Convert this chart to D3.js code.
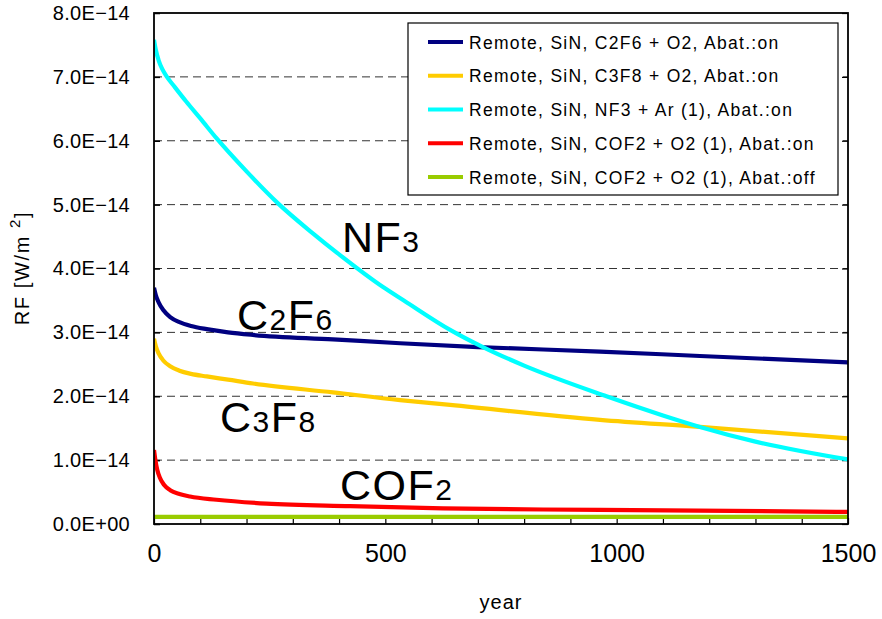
<!DOCTYPE html>
<html>
<head>
<meta charset="utf-8">
<script src="https://cdn.jsdelivr.net/npm/d3@7"></script>
<style>
  html, body { margin: 0; padding: 0; background: #fff; }
  svg text { font-family: "Liberation Sans", Arial, sans-serif; fill: #000; }
</style>
</head>
<body>
<svg id="chart" width="882" height="619"></svg>
<script>
// Radiative forcing of remote-plasma SiN chamber-clean gases over time.
// Values are in units of 1E-14 W/m2; each point is [year, RF].
const UNIT = 1e-14;

const seriesNames = [
  "Remote, SiN, C2F6 + O2, Abat.:on",
  "Remote, SiN, C3F8 + O2, Abat.:on",
  "Remote, SiN, NF3 + Ar (1), Abat.:on",
  "Remote, SiN, COF2 + O2 (1), Abat.:on",
  "Remote, SiN, COF2 + O2 (1), Abat.:off"
];
const seriesColors = ["#000080", "#FFCC00", "#00FFFF", "#FF0000", "#99CC00"];

const c2f6 = [[0,3.70],[4,3.58],[10,3.47],[20,3.35],[35,3.24],[55,3.16],[80,3.10],[114,3.05],
              [160,3.00],[214,2.96],[387,2.89],[532,2.83],[700,2.77],[964,2.70],[1180,2.63],[1500,2.53]];
const c3f8 = [[0,2.90],[4,2.78],[10,2.67],[20,2.56],[35,2.47],[55,2.40],[80,2.35],[114,2.31],
              [160,2.26],[214,2.20],[387,2.06],[532,1.94],[640,1.865],[964,1.63],[1180,1.52],[1500,1.34]];
const nf3  = [[0,7.58],[4,7.42],[10,7.26],[18,7.12],[28,7.00],[45,6.84],[70,6.61],[100,6.35],[135,6.04],
              [200,5.52],[268,5.02],[340,4.57],[402,4.21],[495,3.71],[540,3.50],[640,3.04],
              [711,2.77],[800,2.48],[978,2.00],[1100,1.70],[1180,1.52],[1300,1.29],[1500,1.01]];
const cof2On  = [[0,1.16],[3,1.00],[7,0.85],[13,0.72],[22,0.61],[35,0.53],[55,0.47],[78,0.43],
                 [135,0.38],[243,0.32],[424,0.28],[625,0.245],[964,0.22],[1500,0.19]];
const cof2Off = [[0,0.11],[1500,0.11]];
const seriesData = [c2f6, c3f8, nf3, cof2On, cof2Off];

const xTickLabels = [0, 500, 1000, 1500];
const yTickValues = [0, 1, 2, 3, 4, 5, 6, 7, 8];

// In-plot gas names; odd parts are subscripts
const gasLabels = [
  ["NF", "3"],
  ["C", "2", "F", "6"],
  ["C", "3", "F", "8"],
  ["COF", "2"]
];

const svg = d3.select("#chart");
const margin = { top: 13, right: 34, bottom: 95, left: 154 };
const W = 882, H = 619;
const iw = W - margin.left - margin.right;
const ih = H - margin.top - margin.bottom;

const x = d3.scaleLinear().domain([0, 1500]).range([0, iw]);
const y = d3.scaleLinear().domain([0, 8 * UNIT]).range([ih, 0]);

const g = svg.append("g").attr("transform", `translate(${margin.left},${margin.top})`);

// Dashed gridlines
g.append("g")
  .selectAll("line")
  .data(yTickValues.filter(v => v > 0 && v < 8))
  .join("line")
  .attr("x1", 0).attr("x2", iw)
  .attr("y1", d => y(d * UNIT)).attr("y2", d => y(d * UNIT))
  .attr("stroke", "#333").attr("stroke-width", 1)
  .attr("stroke-dasharray", "8,5");

// Y axis labels and inward ticks
const fmtY = v => v === 0 ? "0.0E+00" : v.toFixed(1) + "E\u221214";
const yAxis = d3.axisLeft(y)
  .tickValues(yTickValues.map(v => v * UNIT))
  .tickSizeInner(-6).tickSizeOuter(0).tickPadding(24)
  .tickFormat(d => fmtY(Math.round(d / UNIT)));
const yg = g.append("g").call(yAxis);
yg.select(".domain").remove();
yg.selectAll(".tick line").attr("stroke", "#000").attr("stroke-width", 1.5);
yg.selectAll(".tick text")
  .attr("font-size", 20).attr("letter-spacing", 0.3)
  .attr("font-family", "Liberation Sans, Arial, sans-serif");

// Right-side inward ticks
const yr = g.append("g").attr("transform", `translate(${iw},0)`)
  .call(d3.axisRight(y).tickValues(yTickValues.map(v => v * UNIT)).tickSizeInner(-6).tickSizeOuter(0).tickFormat(""));
yr.select(".domain").remove();
yr.selectAll(".tick line").attr("stroke", "#000").attr("stroke-width", 1.2);

// X axis: minor ticks every 100 years, labels every 500
const xTicks = d3.range(0, 1501, 100);
const xg = g.append("g").attr("transform", `translate(0,${ih})`)
  .call(d3.axisBottom(x).tickValues(xTicks).tickSizeInner(-6).tickSizeOuter(0).tickPadding(20)
    .tickFormat(d => xTickLabels.includes(d) ? d : ""));
xg.select(".domain").remove();
xg.selectAll(".tick line").attr("stroke", "#000").attr("stroke-width", 1.2);
xg.selectAll(".tick text")
  .attr("font-size", 25).attr("font-family", "Liberation Sans, Arial, sans-serif");

// Series lines
svg.append("clipPath").attr("id", "plotclip")
  .append("rect").attr("x", 0).attr("y", 0).attr("width", iw).attr("height", ih);
const line = d3.line()
  .x(d => x(d[0]))
  .y(d => y(d[1] * UNIT))
  .curve(d3.curveMonotoneX);
g.append("g").attr("clip-path", "url(#plotclip)")
  .selectAll("path")
  .data(seriesData)
  .join("path")
  .attr("d", line)
  .attr("fill", "none")
  .attr("stroke", (d, i) => seriesColors[i])
  .attr("stroke-width", 4.2)
  .attr("stroke-linejoin", "round");

// Plot frame
g.append("rect")
  .attr("x", 0).attr("y", 0).attr("width", iw).attr("height", ih)
  .attr("fill", "none").attr("stroke", "#000").attr("stroke-width", 1.8);

// Gas labels with subscripts
const labelPos = [
  { x: 342, y: 252 },
  { x: 237, y: 330 },
  { x: 220, y: 432 },
  { x: 340, y: 500 }
];
gasLabels.forEach((parts, i) => {
  const t = svg.append("text")
    .attr("x", labelPos[i].x)
    .attr("y", labelPos[i].y)
    .attr("letter-spacing", 1.5);
  parts.forEach((p, j) => {
    t.append("tspan")
      .attr("font-size", j % 2 === 0 ? 43 : 30)
      .text(p);
  });
});

// Legend
const lg = svg.append("g").attr("transform", "translate(408,23)");
lg.append("rect")
  .attr("width", 430).attr("height", 172)
  .attr("fill", "#fff").attr("stroke", "#000").attr("stroke-width", 1.2);
const rowY = d3.scaleLinear().domain([0, 4]).range([19, 154]);
seriesNames.forEach((name, i) => {
  lg.append("line")
    .attr("x1", 20).attr("x2", 55)
    .attr("y1", rowY(i)).attr("y2", rowY(i))
    .attr("stroke", seriesColors[i]).attr("stroke-width", 4);
  lg.append("text")
    .attr("x", 61).attr("y", rowY(i) + 6.5)
    .attr("font-size", 17.5).attr("letter-spacing", 1.3)
    .text(name);
});

// Axis titles
svg.append("text")
  .attr("x", margin.left + iw / 2).attr("y", 609)
  .attr("text-anchor", "middle")
  .attr("font-size", 20).attr("letter-spacing", 1)
  .text("year");

const yt = svg.append("text")
  .attr("transform", "translate(29,268) rotate(-90)")
  .attr("text-anchor", "middle")
  .attr("font-size", 20).attr("letter-spacing", 1.6);
yt.append("tspan").text("RF [W/m ");
yt.append("tspan").attr("font-size", 15).attr("dy", -9).text("2");
yt.append("tspan").attr("dy", 9).text("]");
</script>
</body>
</html>
